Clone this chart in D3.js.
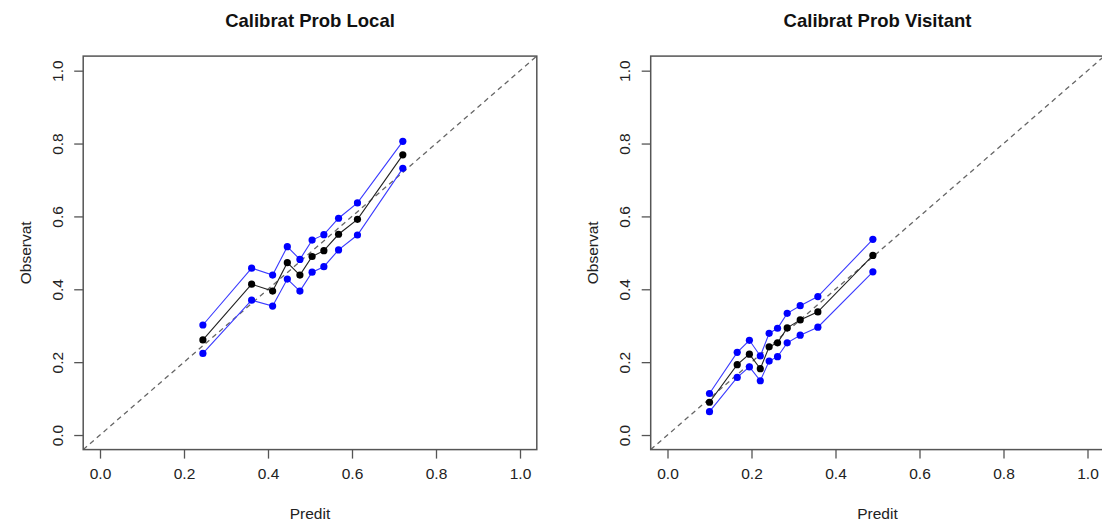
<!DOCTYPE html>
<html>
<head>
<meta charset="utf-8">
<script src="https://cdn.jsdelivr.net/npm/d3@7"></script>
<style>
  html, body { margin: 0; padding: 0; background: #fff; }
  svg { display: block; font-family: "Liberation Sans", Arial, Helvetica, sans-serif; }
</style>
</head>
<body>
<svg id="chart" width="1102" height="524"></svg>
<script>
// ---- Data ----
const titles = ["Calibrat Prob Local", "Calibrat Prob Visitant"];
const xLabel = "Predit";
const yLabel = "Observat";
const tickValues = [0, 0.2, 0.4, 0.6, 0.8, 1.0];

// Left panel (Local)
const localPred  = [0.245, 0.361, 0.411, 0.446, 0.476, 0.505, 0.533, 0.568, 0.613, 0.721];
const localObs   = [0.261, 0.414, 0.395, 0.473, 0.439, 0.490, 0.506, 0.551, 0.592, 0.769];
const localUpper = [0.302, 0.458, 0.439, 0.517, 0.482, 0.535, 0.550, 0.595, 0.637, 0.806];
const localLower = [0.224, 0.370, 0.354, 0.428, 0.395, 0.447, 0.462, 0.508, 0.549, 0.732];

// Right panel (Visitant)
const visPred  = [0.100, 0.166, 0.195, 0.221, 0.242, 0.262, 0.285, 0.316, 0.358, 0.489];
const visObs   = [0.090, 0.193, 0.222, 0.182, 0.242, 0.253, 0.294, 0.316, 0.338, 0.493];
const visUpper = [0.114, 0.227, 0.260, 0.217, 0.279, 0.293, 0.334, 0.355, 0.380, 0.537];
const visLower = [0.064, 0.158, 0.187, 0.149, 0.203, 0.215, 0.253, 0.274, 0.296, 0.448];

const panels = [
  { title: titles[0], pred: localPred, obs: localObs, upper: localUpper, lower: localLower,
    left: 83.2, right: 536.8 },
  { title: titles[1], pred: visPred, obs: visObs, upper: visUpper, lower: visLower,
    left: 650.7, right: 1104.3 }
];

const plotTop = 56.1, plotBottom = 449.6;
const svg = d3.select("#chart");
const axisColor = "#555";
const textColor = "#222";
const fontSize = 15.5;

panels.forEach((p, i) => {
  const x = d3.scaleLinear().domain([-0.04, 1.04]).range([p.left, p.right]);
  const y = d3.scaleLinear().domain([-0.04, 1.04]).range([plotBottom, plotTop]);
  const g = svg.append("g");

  const clipId = "clip" + i;
  g.append("clipPath").attr("id", clipId)
    .append("rect").attr("x", p.left).attr("y", plotTop)
    .attr("width", p.right - p.left).attr("height", plotBottom - plotTop);

  // Diagonal reference line
  g.append("line")
    .attr("clip-path", `url(#${clipId})`)
    .attr("x1", x(-0.04)).attr("y1", y(-0.04))
    .attr("x2", x(1.04)).attr("y2", y(1.04))
    .attr("stroke", "#666").attr("stroke-width", 1.3)
    .attr("stroke-dasharray", "5,4");

  // Axes
  const xAxis = d3.axisBottom(x).tickValues(tickValues).tickFormat(d3.format(".1f"))
    .tickSize(9).tickPadding(9);
  const gx = g.append("g").attr("transform", `translate(0,${plotBottom})`).call(xAxis);
  gx.select(".domain").remove();
  gx.selectAll(".tick line").attr("stroke", axisColor).attr("stroke-width", 1.3);
  gx.selectAll(".tick text").attr("fill", textColor).attr("font-size", fontSize)
    .attr("font-family", "Liberation Sans, Arial, sans-serif");

  const yAxis = d3.axisLeft(y).tickValues(tickValues).tickFormat(d3.format(".1f"))
    .tickSize(9).tickPadding(0);
  const gy = g.append("g").attr("transform", `translate(${p.left},0)`).call(yAxis);
  gy.select(".domain").remove();
  gy.selectAll(".tick line").attr("stroke", axisColor).attr("stroke-width", 1.3);
  gy.selectAll(".tick text")
    .attr("fill", textColor).attr("font-size", fontSize)
    .attr("font-family", "Liberation Sans, Arial, sans-serif")
    .attr("x", null).attr("dy", null)
    .attr("text-anchor", "middle")
    .attr("transform", `translate(${-26},0) rotate(-90)`)
    .attr("dominant-baseline", "central");

  // Box
  g.append("rect")
    .attr("x", p.left).attr("y", plotTop)
    .attr("width", p.right - p.left).attr("height", plotBottom - plotTop)
    .attr("fill", "none").attr("stroke", axisColor).attr("stroke-width", 1.5);

  // Title
  g.append("text")
    .attr("x", (p.left + p.right) / 2).attr("y", 27)
    .attr("text-anchor", "middle").attr("font-weight", "bold")
    .attr("font-size", 18.5).attr("fill", "#111").text(p.title);

  // Axis labels
  g.append("text")
    .attr("x", (p.left + p.right) / 2).attr("y", 519)
    .attr("text-anchor", "middle").attr("font-size", fontSize)
    .attr("fill", textColor).text(xLabel);
  g.append("text")
    .attr("transform", `translate(${p.left - 58},${(plotTop + plotBottom) / 2}) rotate(-90)`)
    .attr("text-anchor", "middle").attr("dominant-baseline", "central")
    .attr("font-size", fontSize).attr("fill", textColor).text(yLabel);

  // Series
  const series = [
    { vals: p.upper, color: "#0000ff", lineColor: "#3a3aff" },
    { vals: p.lower, color: "#0000ff", lineColor: "#3a3aff" },
    { vals: p.obs, color: "#000000", lineColor: "#222" }
  ];
  series.forEach(s => {
    const pts = p.pred.map((d, k) => [d, s.vals[k]]);
    g.append("path")
      .attr("d", d3.line().x(d => x(d[0])).y(d => y(d[1]))(pts))
      .attr("fill", "none").attr("stroke", s.lineColor).attr("stroke-width", 1.1);
    g.selectAll(null).data(pts).enter().append("circle")
      .attr("cx", d => x(d[0])).attr("cy", d => y(d[1]))
      .attr("r", 3.6).attr("fill", s.color);
  });
});
</script>
</body>
</html>
